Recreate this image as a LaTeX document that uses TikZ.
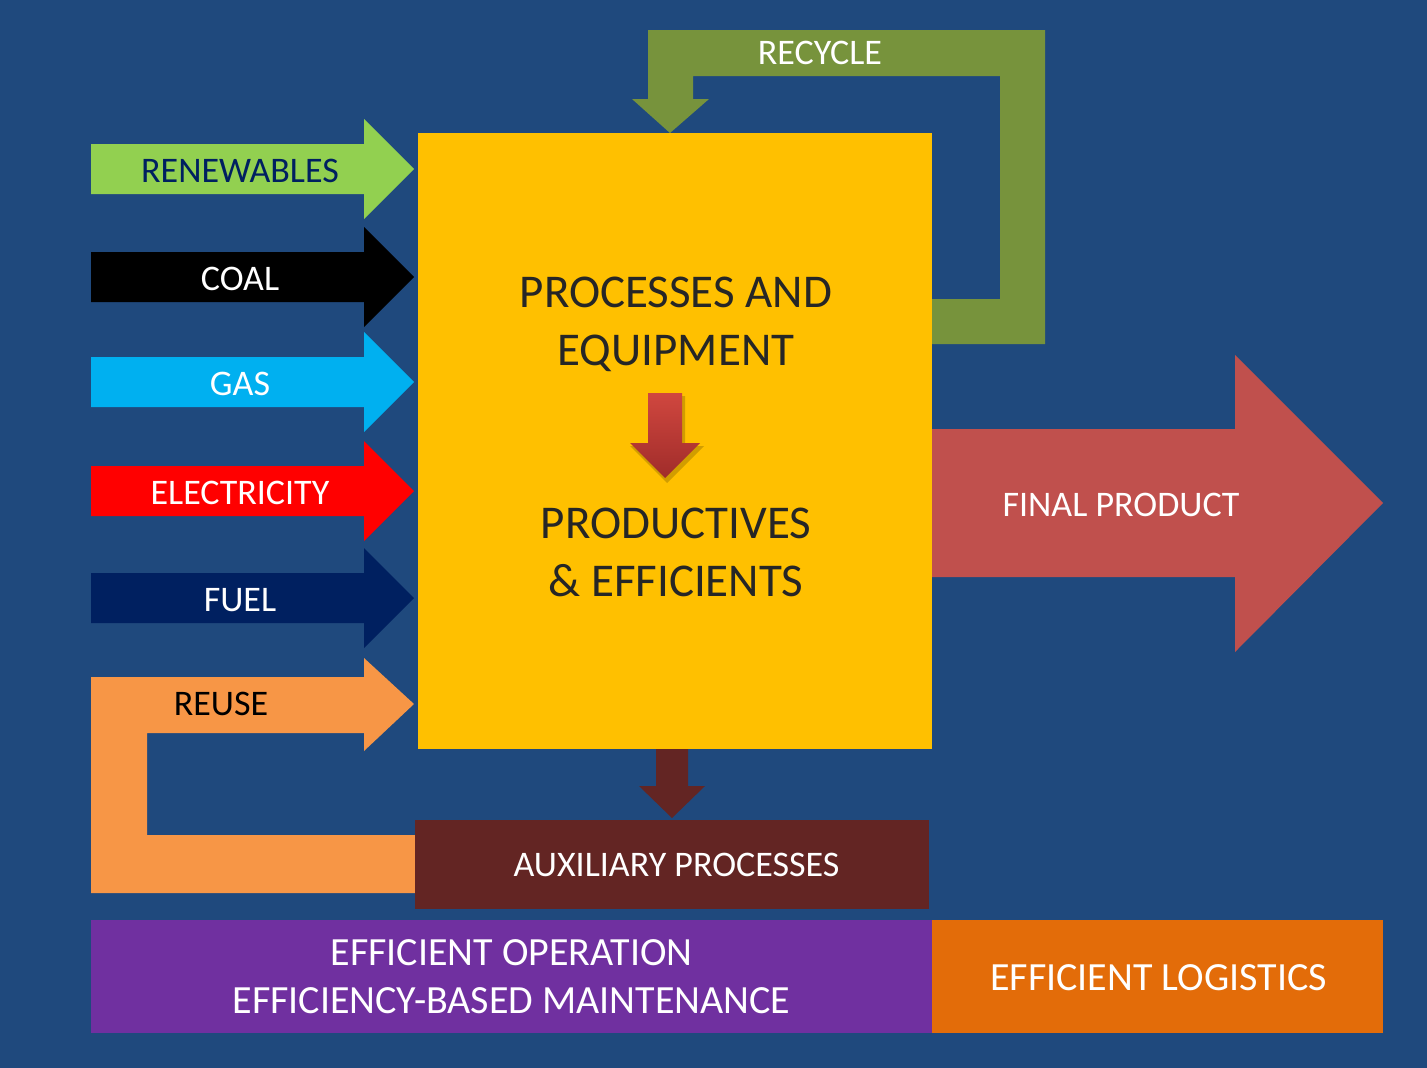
\documentclass[tikz,border=0pt]{standalone}
\usepackage{fontspec}
\setmainfont{Carlito}
\definecolor{bgblue}{HTML}{1F497D}
\definecolor{mainyellow}{HTML}{FFC000}
\definecolor{recgreen}{HTML}{77933C}
\definecolor{rengreen}{HTML}{92D050}
\definecolor{gascyan}{HTML}{00B0F0}
\definecolor{elecred}{HTML}{FF0000}
\definecolor{fuelnavy}{HTML}{002060}
\definecolor{reuseorange}{HTML}{F79646}
\definecolor{prodbrick}{HTML}{C0504D}
\definecolor{auxmaroon}{HTML}{632523}
\definecolor{opviolet}{HTML}{7030A0}
\definecolor{logorange}{HTML}{E36C09}
\definecolor{maintext}{HTML}{262626}
\definecolor{arrtop}{HTML}{D0473F}
\definecolor{arrbot}{HTML}{A02C2A}
\begin{document}
\begin{tikzpicture}[x=1pt,y=-1pt,
  lbl/.style={inner sep=0pt,anchor=base,font=\fontsize{36}{43}\selectfont,text=white},
  biglbl/.style={inner sep=0pt,anchor=base,font=\fontsize{47}{56}\selectfont,text=maintext},
  botlbl/.style={inner sep=0pt,anchor=base,font=\fontsize{40}{48}\selectfont,text=white},
  block/.style={draw=none,inner sep=0pt,outer sep=0pt}]
\fill[bgblue] (0,0) rectangle (1427,1068);
\useasboundingbox (0,0) rectangle (1427,1068);

% recycle loop arrow
\fill[recgreen] (900,299) -- (1000,299) -- (1000,76) -- (693,76) -- (693,99) -- (709,99)
  -- (670,133) -- (632,99) -- (648,99) -- (648,30) -- (1045,30) -- (1045,344) -- (900,344) -- cycle;
\node[lbl] (recycle) at (820,64.5) {RECYCLE};

% reuse loop arrow
\fill[reuseorange] (91,677) -- (364,677) -- (364,658) -- (414,704) -- (364,751) -- (364,733)
  -- (147,733) -- (147,835) -- (440,835) -- (440,893) -- (91,893) -- cycle;
\node[lbl,text=black] (reuse) at (221,715) {REUSE};

% input arrows
\foreach \c/\m in {rengreen/169,black/277,gascyan/382,elecred/491,fuelnavy/598}{
  \fill[\c] (91,\m-25) -- (364,\m-25) -- (364,\m-50) -- (414,\m) -- (364,\m+50)
    -- (364,\m+25) -- (91,\m+25) -- cycle;
}
\node[lbl,text=fuelnavy] (renew) at (240,182.5) {RENEWABLES};
\node[lbl] (coal) at (240,290) {COAL};
\node[lbl] (gas) at (240,395.5) {GAS};
\node[lbl] (elec) at (240,504) {ELECTRICITY};
\node[lbl] (fuel) at (240,611) {FUEL};

% main box
\node[block,fill=mainyellow,minimum width=514pt,minimum height=616pt] (main) at (675,441) {};
\node[biglbl] (t1) at (676,307.5) {PROCESSES AND};
\node[biglbl] (t2) at (676,365.5) {EQUIPMENT};
\node[biglbl] (t3) at (676,538) {PRODUCTIVES};
\node[biglbl] (t4) at (676,596) {\&\ EFFICIENTS};

% gradient arrow inside main box
\fill[black,opacity=0.18] (650,396) -- (685,396) -- (685,446) -- (704,446) -- (667,483) -- (630,446) -- (650,446) -- cycle;
\shade[top color=arrtop,bottom color=arrbot] (648,393) -- (682,393) -- (682,443) -- (700,443)
  -- (665,478) -- (630,443) -- (648,443) -- cycle;

% final product arrow
\fill[prodbrick] (932,429) -- (1235,429) -- (1235,355) -- (1383,503) -- (1235,652) -- (1235,577) -- (932,577) -- cycle;
\node[lbl] (final) at (1121,516) {FINAL PRODUCT};

% arrow to auxiliary processes
\fill[auxmaroon] (656,749) -- (688,749) -- (688,786) -- (705,786) -- (672,818) -- (639,786) -- (656,786) -- cycle;
\node[block,fill=auxmaroon,minimum width=514pt,minimum height=89pt] (aux) at (672,864.5) {};
\node[lbl] (auxt) at (676.5,876) {AUXILIARY PROCESSES};

% bottom bars
\node[block,fill=opviolet,minimum width=841pt,minimum height=113pt] (ops) at (511.5,976.5) {};
\node[botlbl] (ops1) at (511.5,965.5) {EFFICIENT OPERATION};
\node[botlbl] (ops2) at (511.5,1013.5) {EFFICIENCY-BASED MAINTENANCE};
\node[block,fill=logorange,minimum width=451pt,minimum height=113pt] (logi) at (1157.5,976.5) {};
\node[botlbl] (logit) at (1158.5,990) {EFFICIENT LOGISTICS};
\end{tikzpicture}
\end{document}
